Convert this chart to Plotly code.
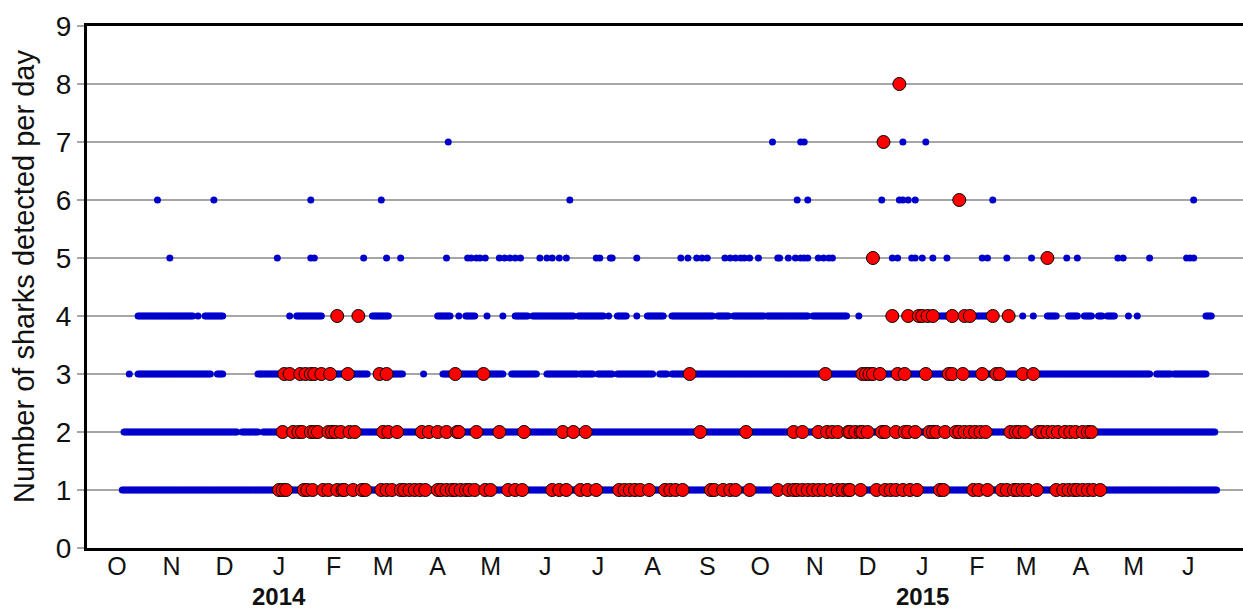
import pandas as pd
import plotly.graph_objects as go

# Day offsets are counted from the start of monitoring, 1 Oct 2013.
START = pd.Timestamp("2013-10-01")

# Daily counts (blue): runs of consecutive days (first_day, last_day) at each count level
BLUE_RUNS_1 = [(3, 624)]
BLUE_RUNS_2 = [(4, 68), (71, 80), (83, 623)]
BLUE_RUNS_3 = [(7, 7), (12, 53), (57, 60), (80, 142), (149, 162), (174, 174), (185, 219),
               (224, 238), (244, 261), (263, 270), (273, 281), (284, 304), (308, 312),
               (315, 586), (590, 598), (600, 618)]
BLUE_RUNS_4 = [(12, 43), (46, 46), (50, 60), (98, 98), (102, 116), (145, 154), (182, 189),
               (194, 194), (198, 203), (210, 210), (219, 219), (226, 233), (236, 259),
               (262, 276), (279, 279), (284, 289), (295, 295), (301, 310), (315, 338),
               (341, 347), (350, 367), (369, 392), (395, 414), (421, 421), (467, 474),
               (488, 494), (514, 514), (520, 520), (528, 533), (540, 545), (549, 553),
               (557, 559), (562, 566), (574, 574), (579, 579), (618, 621)]
BLUE_DAYS_5 = [30, 91, 110, 112, 140, 153, 161, 187, 199, 201, 204, 206, 209, 217, 220, 223,
               226, 229, 240, 244, 247, 251, 255, 272, 274, 280, 281, 295, 320, 324, 329, 332,
               335, 345, 348, 351, 354, 356, 359, 364, 375, 376, 381, 385, 388, 390, 392, 398,
               401, 404, 406, 440, 443, 451, 453, 457, 463, 471, 491, 494, 505, 519, 539, 545,
               568, 571, 586, 607, 609, 611]
BLUE_DAYS_6 = [23, 55, 110, 150, 257, 386, 392, 434, 444, 446, 449, 453, 497, 611]
BLUE_DAYS_7 = [188, 372, 388, 390, 446, 459]

# Highlighted days (red) at each count level
RED_DAYS_1 = [92, 94, 96, 106, 108, 111, 117, 120, 125, 128, 129, 134, 139, 141, 150, 153, 156,
              161, 163, 166, 169, 172, 175, 182, 184, 187, 190, 192, 195, 198, 200, 203, 209,
              212, 222, 226, 230, 247, 251, 255, 263, 267, 272, 285, 288, 291, 294, 297, 302,
              311, 314, 317, 321, 337, 339, 344, 348, 351, 359, 375, 381, 384, 386, 389, 392,
              395, 398, 401, 405, 409, 412, 415, 416, 422, 431, 436, 439, 442, 446, 450, 454,
              467, 469, 486, 489, 494, 502, 505, 509, 511, 514, 517, 522, 533, 537, 540, 543,
              545, 548, 551, 554, 558]
RED_DAYS_2 = [94, 100, 103, 105, 110, 112, 114, 120, 122, 124, 127, 132, 135, 151, 154, 159,
              173, 177, 182, 187, 193, 194, 204, 217, 231, 253, 259, 266, 331, 357, 384, 389,
              398, 403, 406, 409, 415, 416, 419, 422, 423, 426, 434, 436, 442, 447, 449, 453,
              461, 463, 465, 470, 476, 478, 481, 484, 487, 490, 493, 507, 510, 512, 515, 523,
              525, 528, 531, 534, 538, 541, 544, 548, 551, 553]
RED_DAYS_3 = [95, 98, 104, 107, 110, 112, 116, 121, 131, 149, 153, 192, 208, 325, 402, 423,
              425, 427, 429, 433, 443, 447, 459, 472, 474, 480, 491, 499, 501, 514, 520]
RED_DAYS_4 = [125, 137, 440, 449, 455, 457, 460, 463, 474, 481, 484, 497, 506]
RED_DAYS_5 = [429, 528]
RED_DAYS_6 = [478]
RED_DAYS_7 = [435]
RED_DAYS_8 = [444]

# Axis labels
MONTH_LETTERS = ["O", "N", "D", "J", "F", "M", "A", "M", "J", "J", "A", "S",
                 "O", "N", "D", "J", "F", "M", "A", "M", "J"]
YEAR_LABELS = ["2014", "2015"]
Y_TITLE = "Number of sharks detected per day"


def expand_runs(runs):
    days = []
    for first, last in runs:
        days.extend(range(first, last + 1))
    return days


blue_levels = {
    1: expand_runs(BLUE_RUNS_1),
    2: expand_runs(BLUE_RUNS_2),
    3: expand_runs(BLUE_RUNS_3),
    4: expand_runs(BLUE_RUNS_4),
    5: BLUE_DAYS_5,
    6: BLUE_DAYS_6,
    7: BLUE_DAYS_7,
}
red_levels = {1: RED_DAYS_1, 2: RED_DAYS_2, 3: RED_DAYS_3, 4: RED_DAYS_4,
              5: RED_DAYS_5, 6: RED_DAYS_6, 7: RED_DAYS_7, 8: RED_DAYS_8}


def to_xy(levels):
    xs, ys = [], []
    for level, days in levels.items():
        xs.extend(START + pd.to_timedelta(days, unit="D"))
        ys.extend([level] * len(days))
    return xs, ys


bx, by = to_xy(blue_levels)
rx, ry = to_xy(red_levels)

FONT = "Liberation Sans, Arial, Helvetica, sans-serif"
TEXT = "#111111"

fig = go.Figure()
fig.add_trace(go.Scatter(x=bx, y=by, mode="markers",
                         marker=dict(size=7, color="#0000CD", line=dict(width=0)),
                         showlegend=False, hoverinfo="x+y"))
fig.add_trace(go.Scatter(x=rx, y=ry, mode="markers",
                         marker=dict(size=13, color="#FF0000",
                                     line=dict(width=1, color="#000000")),
                         showlegend=False, hoverinfo="x+y"))

month_starts = pd.date_range("2013-10-01", "2015-06-01", freq="MS")
jan_firsts = [d for d in month_starts if d.month == 1]

fig.update_xaxes(
    type="date",
    range=[START - pd.Timedelta(days=17), START + pd.Timedelta(days=639)],
    tickmode="array", tickvals=list(month_starts), ticktext=MONTH_LETTERS,
    ticks="", showgrid=False, zeroline=False,
    showline=True, linewidth=3, linecolor="#000000", mirror=True,
    ticklabelstandoff=-6,
    tickfont=dict(family=FONT, size=25, color=TEXT),
)
fig.update_yaxes(
    range=[0, 9], tickmode="linear", tick0=0, dtick=1,
    showgrid=True, gridcolor="#a6a6a6", gridwidth=2, zeroline=False,
    showline=True, linewidth=3, linecolor="#000000", mirror=False,
    ticks="outside", ticklen=7, tickwidth=2, tickcolor="#a6a6a6",
    tickfont=dict(family=FONT, size=28, color=TEXT),
)

annotations = [
    dict(text=Y_TITLE, textangle=-90, xref="paper", yref="paper",
         x=(24 - 87) / 1156, y=(548 - 277) / 522, xanchor="center", yanchor="middle",
         showarrow=False, font=dict(family=FONT, size=29, color=TEXT)),
]
for label, jan in zip(YEAR_LABELS, jan_firsts):
    annotations.append(dict(text=f"<b>{label}</b>", xref="x", yref="paper",
                            x=jan, y=(548 - 612) / 522, xanchor="center", yanchor="bottom",
                            showarrow=False, font=dict(family=FONT, size=24, color=TEXT)))

fig.update_layout(
    width=1243, height=612,
    margin=dict(l=87, r=0, t=26, b=64),
    paper_bgcolor="#ffffff", plot_bgcolor="#ffffff",
    annotations=annotations,
)

fig.write_html("out.html")
